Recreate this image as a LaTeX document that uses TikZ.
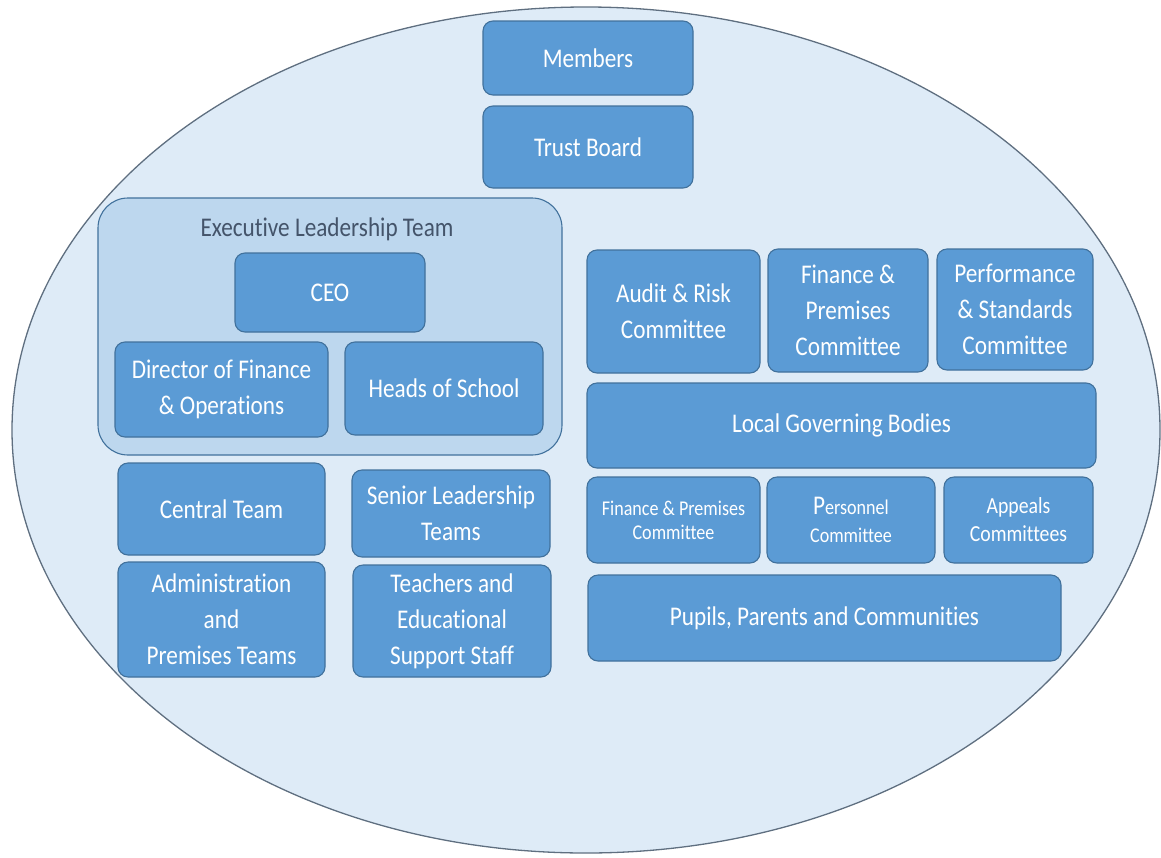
\documentclass[tikz,border=0pt]{standalone}
\usepackage{fontspec}
\setmainfont{Carlito}[FakeStretch=0.86, Ligatures=NoCommon]
\usetikzlibrary{shapes.geometric}
\definecolor{boxblue}{HTML}{5B9BD5}
\definecolor{boxline}{HTML}{41719C}
\definecolor{ovalfill}{HTML}{DEEBF7}
\definecolor{ovalline}{HTML}{5F6F80}
\definecolor{eltfill}{HTML}{BDD7EE}
\definecolor{elttext}{HTML}{44546A}
\begin{document}
\begin{tikzpicture}[x=1pt,y=-1pt,
  box/.style={draw=boxline, line width=1.1pt, fill=boxblue, rounded corners=10pt,
    inner sep=0pt, align=center, text=white, font=\fontsize{27}{36}\selectfont},
  smallbox/.style={box, font=\fontsize{21}{24}\selectfont},
  group/.style={draw=boxline, line width=1.1pt, fill=eltfill, rounded corners=30pt, inner sep=0pt}]
  \useasboundingbox (0,0) rectangle (1161,857);
  \node[draw=ovalline, line width=1.3pt, fill=ovalfill, ellipse, inner sep=0pt,
    minimum width=1148pt, minimum height=846pt] (oval) at (586,430) {};
  \node[box, minimum width=210pt, minimum height=74pt] (members) at (588,58) {Members};
  \node[box, minimum width=210pt, minimum height=82pt] (trust) at (588,147) {Trust Board};
  \node[group, minimum width=464pt, minimum height=257pt] (elt) at (330,326.5) {};
  \node[text=elttext, font=\fontsize{27}{36}\selectfont] (elttitle) at (327,229) {Executive Leadership Team};
  \node[box, minimum width=190pt, minimum height=79pt] (ceo) at (330,292.5) {CEO};
  \node[box, minimum width=213pt, minimum height=95pt] (dfo) at (221.5,389.5) {Director of Finance\\\& Operations};
  \node[box, minimum width=198pt, minimum height=93pt] (heads) at (444,388.5) {Heads of School};
  \node[box, minimum width=207pt, minimum height=92pt] (central) at (221.5,509) {Central Team};
  \node[box, minimum width=198pt, minimum height=87pt] (slt) at (451,513.5) {Senior Leadership\\Teams};
  \node[box, minimum width=207pt, minimum height=115pt] (admin) at (221.5,619.5) {Administration\\and\\Premises Teams};
  \node[box, minimum width=198pt, minimum height=112pt] (teachers) at (452,621) {Teachers and\\Educational\\Support Staff};
  \node[box, minimum width=173pt, minimum height=123pt] (audit) at (673.5,311.5) {Audit \& Risk\\Committee};
  \node[box, minimum width=160pt, minimum height=123pt] (finprem) at (848,310.5) {Finance \&\\Premises\\Committee};
  \node[box, minimum width=156pt, minimum height=121pt] (perf) at (1015,309.5) {Performance\\\& Standards\\Committee};
  \node[box, minimum width=509pt, minimum height=85pt] (lgb) at (841.5,425.5) {Local Governing Bodies};
  \node[smallbox, minimum width=173pt, minimum height=86pt] (localfin) at (673.5,520) {Finance \& Premises\\Committee};
  \node[smallbox, font=\fontsize{21}{28}\selectfont, minimum width=168pt, minimum height=86pt] (personnel) at (851,520)
    {{\fontsize{27}{28}\selectfont P}ersonnel\\Committee};
  \node[smallbox, font=\fontsize{23}{28}\selectfont, minimum width=149pt, minimum height=86pt] (appeals) at (1018.5,520) {Appeals\\Committees};
  \node[box, minimum width=473pt, minimum height=86pt] (pupils) at (824.5,618) {Pupils, Parents and Communities};
\end{tikzpicture}
\end{document}
